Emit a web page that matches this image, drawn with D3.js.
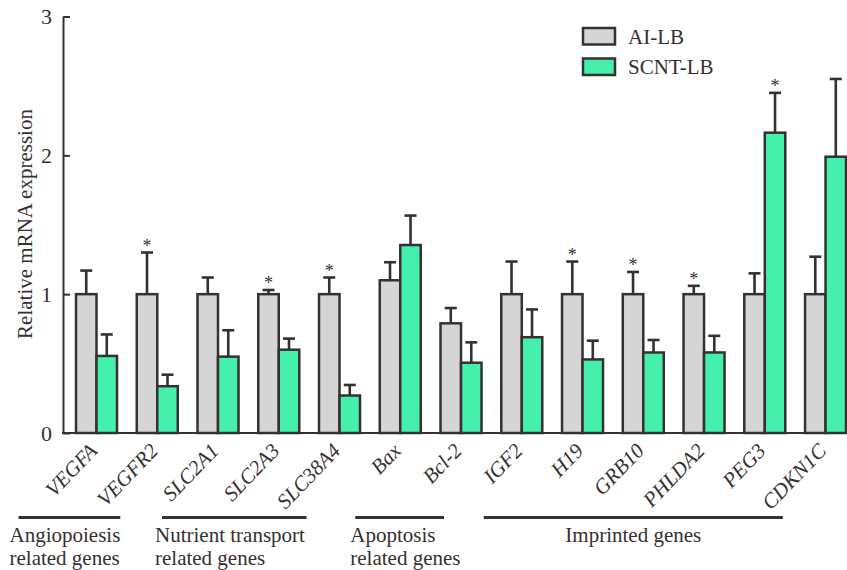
<!DOCTYPE html>
<html>
<head>
<meta charset="utf-8">
<script src="https://cdn.jsdelivr.net/npm/d3@7"></script>
<style>
  body { margin: 0; background: #fff; }
  svg { display: block; font-family: "Liberation Serif", "Times New Roman", serif; }
</style>
</head>
<body>
<div id="chart"></div>
<script>
// data
const genes = ['VEGFA', 'VEGFR2', 'SLC2A1', 'SLC2A3', 'SLC38A4', 'Bax', 'Bcl-2',
               'IGF2', 'H19', 'GRB10', 'PHLDA2', 'PEG3', 'CDKN1C'];
const series = ['AI-LB', 'SCNT-LB'];
const aiMean   = [1.00, 1.00, 1.00, 1.00, 1.00, 1.10, 0.79, 1.00, 1.00, 1.00, 1.00, 1.00, 1.00];
const aiErr    = [0.17, 0.30, 0.12, 0.03, 0.12, 0.13, 0.11, 0.235, 0.235, 0.16, 0.06, 0.15, 0.27];
const scntMean = [0.555, 0.337, 0.55, 0.60, 0.27, 1.354, 0.506, 0.69, 0.53, 0.58, 0.58, 2.163, 1.99];
const scntErr  = [0.155, 0.083, 0.19, 0.08, 0.076, 0.212, 0.147, 0.20, 0.135, 0.09, 0.12, 0.287, 0.56];
// significance marks: [gene, series]
const stars = [['VEGFR2', 'AI-LB'], ['SLC2A3', 'AI-LB'], ['SLC38A4', 'AI-LB'], ['H19', 'AI-LB'],
               ['GRB10', 'AI-LB'], ['PHLDA2', 'AI-LB'], ['PEG3', 'SCNT-LB']];
const groupNames = [['Angiopoiesis', 'related genes'], ['Nutrient transport', 'related genes'],
                    ['Apoptosis', 'related genes'], ['Imprinted genes']];
const groupSpan = [['VEGFA', 'VEGFR2'], ['SLC2A1', 'SLC38A4'], ['Bax', 'Bcl-2'], ['IGF2', 'PEG3']];
const yTicks = [0, 1, 2, 3];

const width = 847, height = 570;
const ink = '#363031';
const colors = { 'AI-LB': '#d5d5d5', 'SCNT-LB': '#45f0ac' };

// bracket offsets (px) from the centre of first / last gene, and label placement
const bracketOff = [[-78, -37], [-56, -33], [-45, -17], [-38, 18]];
const labelOff = [-87, -63, -50, null];

const rows = genes.map((g, i) => ({
  gene: g,
  vals: [
    { key: 'AI-LB', mean: aiMean[i], err: aiErr[i] },
    { key: 'SCNT-LB', mean: scntMean[i], err: scntErr[i] }
  ]
}));

const svg = d3.select('#chart').append('svg')
  .attr('width', width).attr('height', height);

const x0 = d3.scaleBand().domain(genes).range([63.85, 858.2])
  .paddingInner(0.325).paddingOuter(0.2);
const x1 = d3.scaleBand().domain(series).range([0, x0.bandwidth()]);
const y = d3.scaleLinear().domain([0, 3]).range([433, 16.5]);
const cx = gn => x0(gn) + x0.bandwidth() / 2;

// bars
const g = svg.append('g').selectAll('g')
  .data(rows)
  .join('g')
    .attr('transform', d => `translate(${x0(d.gene)},0)`);

g.selectAll('rect')
  .data(d => d.vals)
  .join('rect')
    .attr('x', d => x1(d.key))
    .attr('y', d => y(d.mean))
    .attr('width', x1.bandwidth())
    .attr('height', d => y(0) - y(d.mean))
    .attr('fill', d => colors[d.key])
    .attr('stroke', ink)
    .attr('stroke-width', 2.5);

// error bars (upper only)
const eb = g.selectAll('g.err')
  .data(d => d.vals)
  .join('g').attr('class', 'err')
    .attr('stroke', ink).attr('stroke-width', 2.6);
eb.append('line')
  .attr('x1', d => x1(d.key) + x1.bandwidth() / 2)
  .attr('x2', d => x1(d.key) + x1.bandwidth() / 2)
  .attr('y1', d => y(d.mean))
  .attr('y2', d => y(d.mean + d.err));
eb.append('line')
  .attr('x1', d => x1(d.key) + x1.bandwidth() / 2 - 6)
  .attr('x2', d => x1(d.key) + x1.bandwidth() / 2 + 6)
  .attr('y1', d => y(d.mean + d.err))
  .attr('y2', d => y(d.mean + d.err));

// asterisks
svg.append('g').selectAll('text')
  .data(stars)
  .join('text')
    .attr('x', ([gn, s]) => x0(gn) + x1(s) + x1.bandwidth() / 2)
    .attr('y', ([gn, s]) => {
      const r = rows.find(r => r.gene === gn).vals.find(v => v.key === s);
      return y(r.mean + r.err) - 1;
    })
    .attr('text-anchor', 'middle')
    .attr('font-size', 18)
    .attr('fill', ink)
    .text('*');

// axes
const yAxis = svg.append('g')
  .attr('transform', `translate(63,0)`)
  .call(d3.axisLeft(y).tickValues(yTicks).tickFormat(d3.format('d')).tickSizeInner(-7).tickSizeOuter(0).tickPadding(10));
yAxis.select('.domain').attr('stroke', ink).attr('stroke-width', 2);
yAxis.selectAll('.tick line').attr('stroke', ink).attr('stroke-width', 2);
yAxis.selectAll('.tick text').attr('font-size', 22).attr('font-family', 'Liberation Serif')
  .attr('fill', ink).attr('dx', -1);

svg.append('line')
  .attr('x1', 62).attr('x2', width).attr('y1', y(0)).attr('y2', y(0))
  .attr('stroke', ink).attr('stroke-width', 2);

// gene labels
svg.append('g').selectAll('text')
  .data(genes)
  .join('text')
    .attr('transform', d => `translate(${cx(d) + 2},${452}) rotate(-46)`)
    .attr('text-anchor', 'end')
    .attr('font-size', 21)
    .attr('font-style', 'italic')
    .attr('fill', ink)
    .text(d => d);

// y title
svg.append('text')
  .attr('transform', `translate(32,${224}) rotate(-90)`)
  .attr('text-anchor', 'middle')
  .attr('font-size', 21)
  .attr('fill', ink)
  .text('Relative mRNA expression');

// category brackets
groupSpan.forEach(([from, to], i) => {
  const left = cx(from) + bracketOff[i][0], right = cx(to) + bracketOff[i][1];
  svg.append('line')
    .attr('x1', left).attr('x2', right)
    .attr('y1', 517.5).attr('y2', 517.5)
    .attr('stroke', ink).attr('stroke-width', 3);
  const lines = groupNames[i];
  lines.forEach((t, j) => {
    svg.append('text')
      .attr('x', labelOff[i] === null ? (cx(from) + cx(to)) / 2 - 10 : cx(from) + labelOff[i])
      .attr('y', 542 + j * 23)
      .attr('text-anchor', labelOff[i] === null ? 'middle' : 'start')
      .attr('font-size', 21)
      .attr('fill', ink)
      .text(t);
  });
});

// legend
const lg = svg.append('g').attr('transform', 'translate(583,28)');
const li = lg.selectAll('g')
  .data(series)
  .join('g')
    .attr('transform', (d, i) => `translate(0,${i * 30.5})`);
li.append('rect')
  .attr('width', 32).attr('height', 16.5)
  .attr('fill', d => colors[d])
  .attr('stroke', ink).attr('stroke-width', 2.5);
li.append('text')
  .attr('x', 45).attr('y', 15.5)
  .attr('font-size', 21)
  .attr('fill', ink)
  .text(d => d);
</script>
</body>
</html>
